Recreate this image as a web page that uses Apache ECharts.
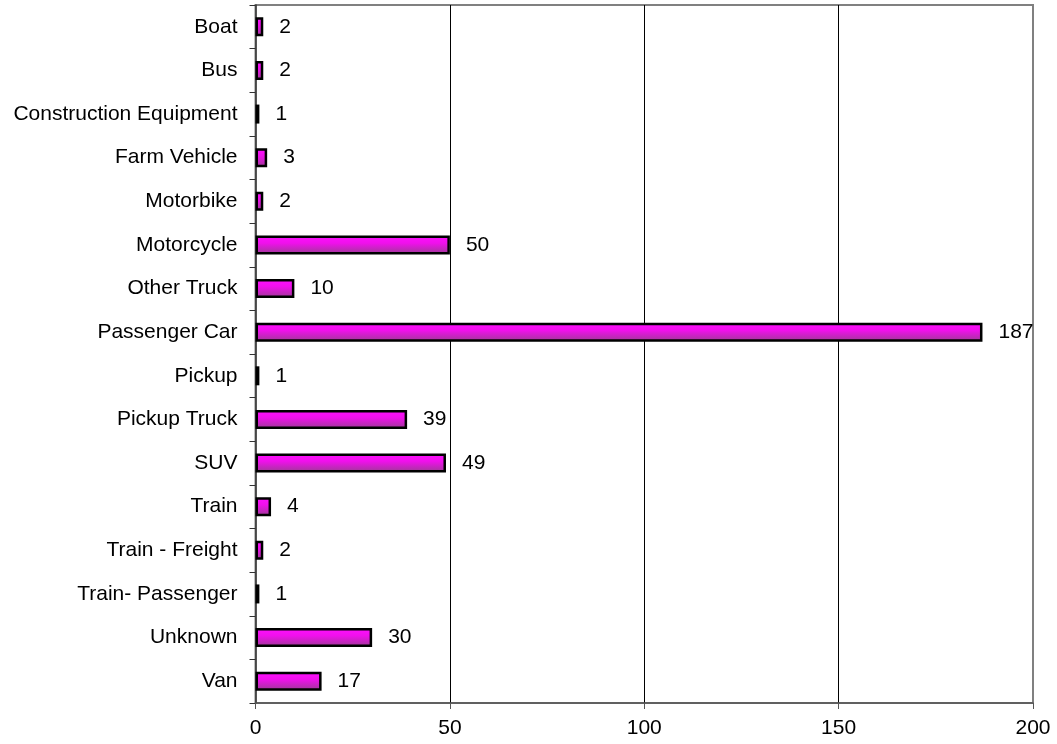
<!DOCTYPE html>
<html>
<head>
<meta charset="utf-8">
<script src="https://cdn.jsdelivr.net/npm/echarts@6/dist/echarts.min.js"></script>
<style>html,body{margin:0;padding:0;background:#fff;}#c{width:1057px;height:744px;}</style>
</head>
<body>
<div id="c"></div>
<script>
var categories = ["Boat","Bus","Construction Equipment","Farm Vehicle","Motorbike","Motorcycle","Other Truck","Passenger Car","Pickup","Pickup Truck","SUV","Train","Train - Freight","Train- Passenger","Unknown","Van"];
var values = [2,2,1,3,2,50,10,187,1,39,49,4,2,1,30,17];
var xTicks = [0,50,100,150,200];

var chart = echarts.init(document.getElementById('c'), null, {renderer:'canvas'});
var font = '"Liberation Sans", Arial, sans-serif';
chart.setOption({
  animation: false,
  backgroundColor: '#fff',
  grid: {left: 255.5, right: 24, top: 5, bottom: 41, show: true, borderColor: '#808080', borderWidth: 2, backgroundColor: 'transparent'},
  xAxis: {
    type: 'value', min: xTicks[0], max: xTicks[xTicks.length-1], interval: 50,
    axisLine: {show: true, lineStyle: {color: '#555', width: 1.5}},
    axisTick: {show: true, length: 6, lineStyle: {color: '#555'}},
    axisLabel: {color: '#000', fontSize: 21, fontFamily: font, margin: 15},
    splitLine: {show: true, lineStyle: {color: ['#808080','#000','#000','#000','#808080'], width: 1}}
  },
  yAxis: {
    type: 'category', data: categories, inverse: true,
    axisLine: {show: true, lineStyle: {color: '#333', width: 1.5}},
    axisTick: {show: true, length: 6, lineStyle: {color: '#333'}},
    axisLabel: {color: '#000', fontSize: 21, fontFamily: font, margin: 18}
  },
  series: [{
    type: 'bar', data: values, barWidth: 19,
    itemStyle: {
      color: new echarts.graphic.LinearGradient(0,0,0,1,[{offset:0,color:'#ff10ff'},{offset:0.4,color:'#f010ec'},{offset:1,color:'#9c3a94'}]),
      borderColor: '#000', borderWidth: 2.5
    },
    label: {show: true, position: 'right', distance: 16, color: '#000', fontSize: 21, fontFamily: font}
  }]
});
</script>
</body>
</html>
